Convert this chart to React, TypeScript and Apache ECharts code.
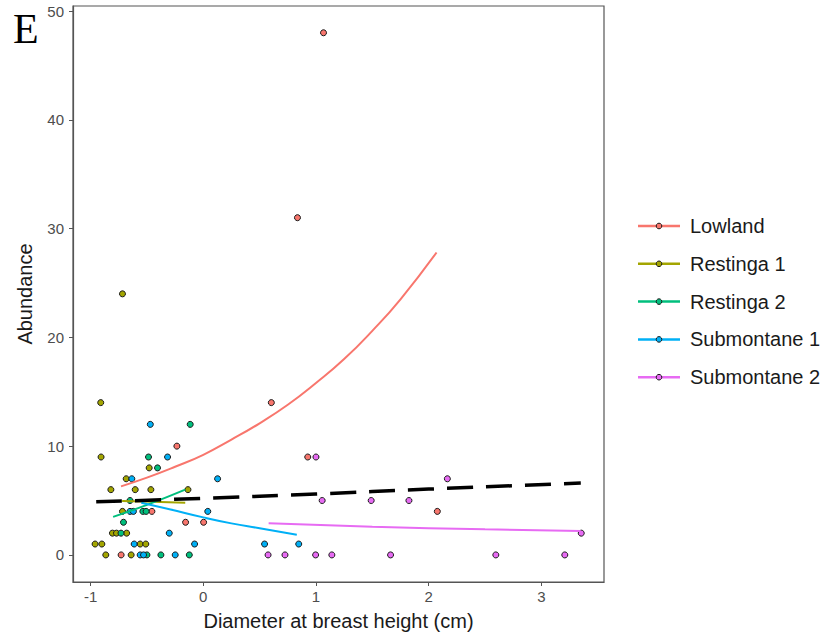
import React, { useEffect, useRef } from "react";
import * as echarts from "echarts";

const groupNames = ["Lowland", "Restinga 1", "Restinga 2", "Submontane 1", "Submontane 2"];
const groupColors = ["#F8766D", "#A3A500", "#00BF7D", "#00B0F6", "#E76BF3"];

// observed points [dbh, abundance]
const lowlandPts = [[1.067, 48], [0.836, 31], [0.604, 14], [-0.234, 10], [0.927, 9], [-0.456, 4], [-0.157, 3], [0.003, 3], [-0.729, 0], [2.077, 4]];
const restinga1Pts = [[-0.717, 24], [-0.91, 14], [-0.907, 9], [-0.48, 8], [-0.684, 7], [-0.82, 6], [-0.604, 6], [-0.465, 6], [-0.136, 6], [-0.717, 4], [-0.806, 2], [-0.77, 2], [-0.68, 2], [-0.96, 1], [-0.9, 1], [-0.56, 1], [-0.51, 1], [-0.865, 0], [-0.64, 0]];
const restinga2Pts = [[-0.116, 12], [-0.486, 9], [-0.406, 8], [-0.65, 5], [-0.536, 4], [-0.507, 4], [-0.708, 3], [-0.73, 2], [-0.5, 0], [-0.376, 0], [-0.124, 0]];
const submontane1Pts = [[-0.47, 12], [-0.317, 9], [-0.634, 7], [0.127, 7], [-0.65, 4], [-0.62, 4], [0.04, 4], [-0.302, 2], [-0.613, 1], [-0.077, 1], [0.544, 1], [0.847, 1], [-0.56, 0], [-0.53, 0], [-0.249, 0]];
const submontane2Pts = [[1.0, 9], [1.055, 5], [1.49, 5], [1.825, 5], [2.166, 7], [3.354, 2], [0.575, 0], [0.725, 0], [0.997, 0], [1.141, 0], [1.662, 0], [2.596, 0], [3.208, 0]];

// fitted curves
const lowlandFit = [[-0.73, 6.3], [-0.5, 7.1], [-0.25, 8.1], [0, 9.2], [0.25, 10.6], [0.5, 12.1], [0.75, 13.8], [1.0, 15.8], [1.25, 18.0], [1.5, 20.6], [1.75, 23.5], [2.07, 27.8]];
const restinga1Fit = [[-0.72, 4.95], [-0.45, 4.88], [-0.16, 4.8]];
const restinga2Fit = [[-0.8, 3.5], [-0.5, 4.6], [-0.16, 6.0]];
const submontane1Fit = [[-0.55, 4.8], [-0.3, 4.2], [0, 3.45], [0.25, 2.9], [0.5, 2.45], [0.83, 1.85]];
const submontane2Fit = [[0.58, 2.9], [1.5, 2.6], [2.5, 2.35], [3.35, 2.2]];
const overallFit = [[-0.95, 4.88], [0, 5.2], [1, 5.6], [2, 6.05], [3.35, 6.6]];

const xTicks = [-1, 0, 1, 2, 3];
const yTicks = [0, 10, 20, 30, 40, 50];

const FONT = "Arial, 'Liberation Sans', sans-serif";

export default function App() {
  const ref = useRef<HTMLDivElement>(null);
  useEffect(() => {
    const chart = echarts.init(ref.current!, null, { renderer: "svg" });
    const ptsList = [lowlandPts, restinga1Pts, restinga2Pts, submontane1Pts, submontane2Pts];
    const fitList = [lowlandFit, restinga1Fit, restinga2Fit, submontane1Fit, submontane2Fit];
    const series: any[] = [];
    ptsList.forEach((pts, i) => {
      series.push({
        type: "scatter",
        name: groupNames[i],
        data: pts,
        symbol: "circle",
        symbolSize: 6,
        itemStyle: { color: groupColors[i], borderColor: "#1a1a1a", borderWidth: 1, opacity: 1 },
        z: 2,
      });
    });
    fitList.forEach((fit, i) => {
      series.push({
        type: "line",
        name: groupNames[i] + " fit",
        data: fit,
        smooth: true,
        showSymbol: false,
        lineStyle: { color: groupColors[i], width: 2 },
        z: 3,
      });
    });
    series.push({
      type: "line",
      name: "Overall",
      data: overallFit,
      smooth: true,
      showSymbol: false,
      lineStyle: { color: "#000", width: 3.5, type: [26, 13] },
      z: 4,
    });

    const legendGraphics: any[] = [];
    groupNames.forEach((n, i) => {
      const y = 226 + i * 37.8;
      legendGraphics.push({
        type: "line",
        shape: { x1: 638, y1: y, x2: 680, y2: y },
        style: { stroke: groupColors[i], lineWidth: 2.5 },
      });
      legendGraphics.push({
        type: "circle",
        shape: { cx: 659, cy: y, r: 2.8 },
        style: { fill: groupColors[i], stroke: "#1a1a1a", lineWidth: 1 },
      });
      legendGraphics.push({
        type: "text",
        x: 690,
        y: y,
        style: { text: n, fill: "#1a1a1a", font: `20px ${FONT}`, textVerticalAlign: "middle" },
      });
    });

    chart.setOption({
      animation: false,
      backgroundColor: "#fff",
      grid: { left: 73, top: 6, right: 222, bottom: 57, show: true, borderColor: "#555", borderWidth: 1.2 },
      xAxis: {
        type: "value",
        min: -1.156,
        max: 3.556,
        name: "Diameter at breast height (cm)",
        nameLocation: "middle",
        nameGap: 29,
        nameTextStyle: { fontFamily: FONT, fontSize: 20, color: "#1a1a1a" },
        axisLine: { show: true, onZero: false, lineStyle: { color: "#555", width: 1.2 } },
        axisTick: { show: true, length: 4, lineStyle: { color: "#555" }, customValues: xTicks },
        axisLabel: { fontFamily: FONT, fontSize: 15, color: "#4d4d4d", margin: 7, customValues: xTicks },
        splitLine: { show: false },
      },
      yAxis: {
        type: "value",
        min: -2.49,
        max: 50.46,
        name: "Abundance",
        nameLocation: "middle",
        nameRotate: 90,
        nameGap: 38,
        nameTextStyle: { fontFamily: FONT, fontSize: 20, color: "#1a1a1a" },
        axisLine: { show: true, onZero: false, lineStyle: { color: "#555", width: 1.2 } },
        axisTick: { show: true, length: 4, lineStyle: { color: "#555" }, customValues: yTicks },
        axisLabel: { fontFamily: FONT, fontSize: 15, color: "#4d4d4d", margin: 9, customValues: yTicks },
        splitLine: { show: false },
      },
      graphic: [
        {
          type: "text",
          left: 13,
          top: 8,
          style: { text: "E", fill: "#000", font: "42px 'Liberation Serif', 'Times New Roman', serif" },
        },
        ...legendGraphics,
      ],
      series,
    });
    return () => chart.dispose();
  }, []);
  return <div ref={ref} style={{ width: 826, height: 639, position: "absolute", left: 0, top: 0 }} />;
}
